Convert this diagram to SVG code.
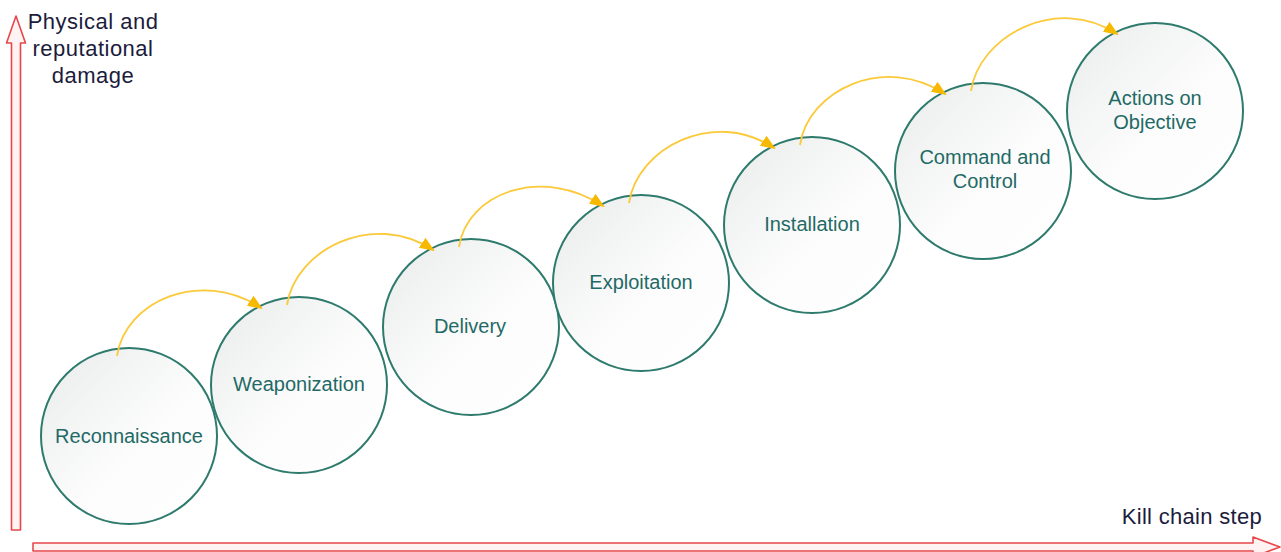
<svg xmlns="http://www.w3.org/2000/svg" width="1281" height="552" viewBox="0 0 1281 552">
<style>
.node circle{fill:url(#g);stroke:#2e7b6e;stroke-width:2}
.node text{font-family:"Liberation Sans",Arial,sans-serif;font-size:20px;fill:#1f6a66;text-anchor:middle}
.axis{fill:#fff2f2;stroke:#e8474a;stroke-width:1.6;stroke-linejoin:round}
.lbl{font-family:"Liberation Sans",Arial,sans-serif;font-size:22px;fill:#1c1c3c}
.arc{fill:none;stroke:#fbc93a;stroke-width:1.8;marker-end:url(#ah)}
</style>
<defs>
<linearGradient id="g" x1="0" y1="0" x2="1" y2="1">
<stop offset="0" stop-color="#e9ebeb"/>
<stop offset="0.55" stop-color="#fcfcfc"/>
<stop offset="1" stop-color="#ffffff"/>
</linearGradient>
<marker id="ah" markerUnits="userSpaceOnUse" markerWidth="16" markerHeight="14" refX="13" refY="6" orient="auto">
<path d="M0,0 L15,6 L0,12 Z" fill="#f7b900"/>
</marker>
</defs>
<rect width="1281" height="552" fill="#ffffff"/>
<g id="axes">
<path class="axis" d="M11.5,530 L11.5,43 L6.5,43 L16,16 L25.5,43 L20.5,43 L20.5,530 Z"/>
<path class="axis" d="M33,543 L1253,543 L1253,537 L1280,547 L1253,557 L1253,551 L33,551 Z"/>
<text class="lbl" x="93" y="29" text-anchor="middle" letter-spacing="0.5">Physical and</text>
<text class="lbl" x="93" y="56" text-anchor="middle" letter-spacing="0.5">reputational</text>
<text class="lbl" x="93" y="83" text-anchor="middle" letter-spacing="0.5">damage</text>
<text class="lbl" x="1262" y="524" text-anchor="end" letter-spacing="0.3">Kill chain step</text>
</g>
<g id="n1" class="node"><circle cx="129" cy="436" r="88"/><text x="129" y="443">Reconnaissance</text></g>
<g id="n2" class="node"><circle cx="299" cy="385" r="88"/><text x="299" y="391">Weaponization</text></g>
<g id="n3" class="node"><circle cx="471" cy="327" r="88"/><text x="470" y="333">Delivery</text></g>
<g id="n4" class="node"><circle cx="641" cy="283" r="88"/><text x="641" y="289">Exploitation</text></g>
<g id="n5" class="node"><circle cx="812" cy="225" r="88"/><text x="812" y="231">Installation</text></g>
<g id="n6" class="node"><circle cx="983" cy="171" r="88"/><text x="985" y="164">Command and</text><text x="985" y="188">Control</text></g>
<g id="n7" class="node"><circle cx="1155" cy="111" r="88"/><text x="1155" y="105">Actions on</text><text x="1155" y="129">Objective</text></g>
<g id="connectors">
<path class="arc" d="M117,356 C125,301 201,268 261,308"/>
<path class="arc" d="M287,305 C295,250 373,210 433,250"/>
<path class="arc" d="M459,247 C467,192 543,166 603,206"/>
<path class="arc" d="M629,203 C637,148 714,108 774,148"/>
<path class="arc" d="M800,145 C808,90 885,54 945,94"/>
<path class="arc" d="M971,91 C979,36 1057,-6 1117,34"/>
</g>
</svg>
